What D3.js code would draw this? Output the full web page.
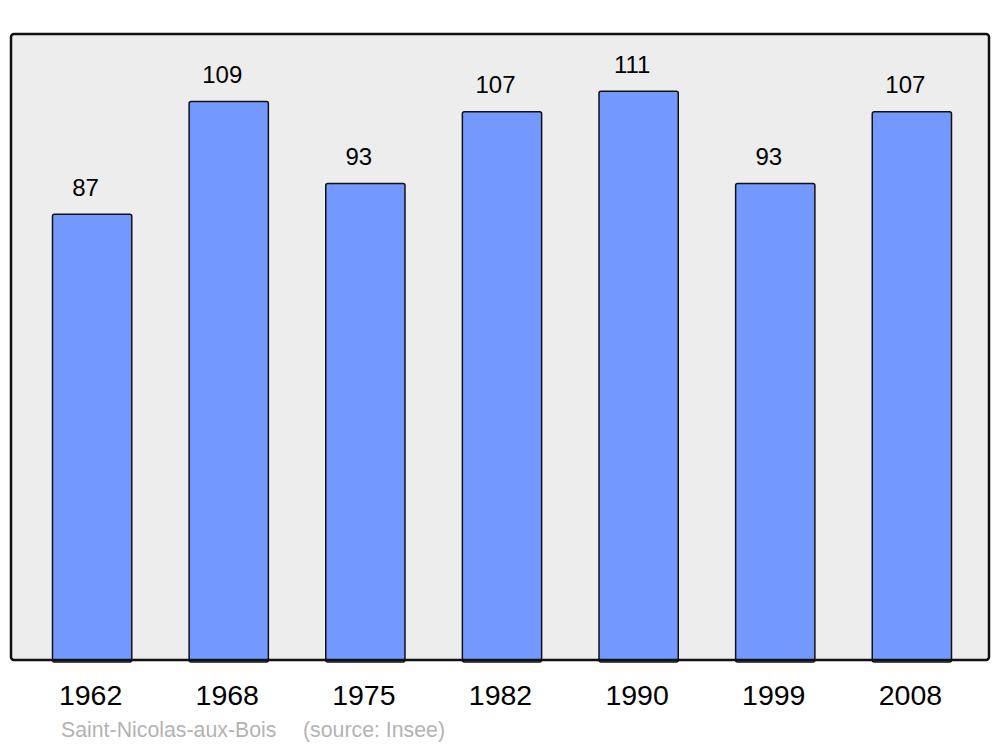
<!DOCTYPE html>
<html><head><meta charset="utf-8">
<script src="https://cdn.jsdelivr.net/npm/d3@7"></script>
<style>body{margin:0;background:#fff}svg{display:block}text{font-family:"Liberation Sans",Arial,sans-serif}</style>
</head><body>
<svg id="c" width="1000" height="747"></svg>
<script>
const years = ["1962","1968","1975","1982","1990","1999","2008"];
const population = [87,109,93,107,111,93,107];
const title = "Saint-Nicolas-aux-Bois";
const source = "(source: Insee)";

const svg = d3.select("#c");
const frame = {x0: 11, x1: 989, y0: 34, y1: 660};
const x = d3.scaleBand().domain(years).range([52.5, 951.5]).paddingInner(0.42).paddingOuter(0);
const y = d3.scaleLinear().domain([0, 122.2]).range([frame.y1, frame.y0]);

svg.append("rect").attr("x", frame.x0).attr("y", frame.y0)
  .attr("width", frame.x1 - frame.x0).attr("height", frame.y1 - frame.y0)
  .attr("rx", 3).attr("fill", "#ededed");

const data = years.map((yr, i) => ({yr, v: population[i]}));

svg.selectAll("rect.bar").data(data).join("rect").attr("class", "bar")
  .attr("x", d => x(d.yr)).attr("y", d => y(d.v))
  .attr("width", x.bandwidth()).attr("height", d => y(0) - y(d.v) + 2)
  .attr("rx", 2).attr("fill", "#7399ff").attr("stroke", "#111").attr("stroke-width", 1.5);

svg.append("rect").attr("x", frame.x0).attr("y", frame.y0)
  .attr("width", frame.x1 - frame.x0).attr("height", frame.y1 - frame.y0)
  .attr("rx", 3).attr("fill", "none").attr("stroke", "#111").attr("stroke-width", 2.5);

svg.selectAll("text.val").data(data).join("text").attr("class", "val")
  .attr("x", d => x(d.yr) + x.bandwidth() / 2 - 6.5).attr("y", d => y(d.v) - 18.5)
  .attr("text-anchor", "middle").attr("font-size", 24).attr("fill", "#000")
  .text(d => d.v);

const xAxis = d3.axisBottom(x).tickSize(0).tickPadding(0);
const ga = svg.append("g").attr("transform", `translate(-1.5,${frame.y1})`).call(xAxis);
ga.select(".domain").remove();
ga.selectAll("text").attr("font-size", 28.5).attr("fill", "#000")
  .attr("font-family", '"Liberation Sans",Arial,sans-serif')
  .attr("dy", null).attr("y", 45);

svg.append("text").attr("x", 61).attr("y", 737).attr("font-size", 21.3).attr("fill", "#b3b3b3").text(title);
svg.append("text").attr("x", 303).attr("y", 737).attr("font-size", 21.3).attr("fill", "#b3b3b3").text(source);
</script>
</body></html>
